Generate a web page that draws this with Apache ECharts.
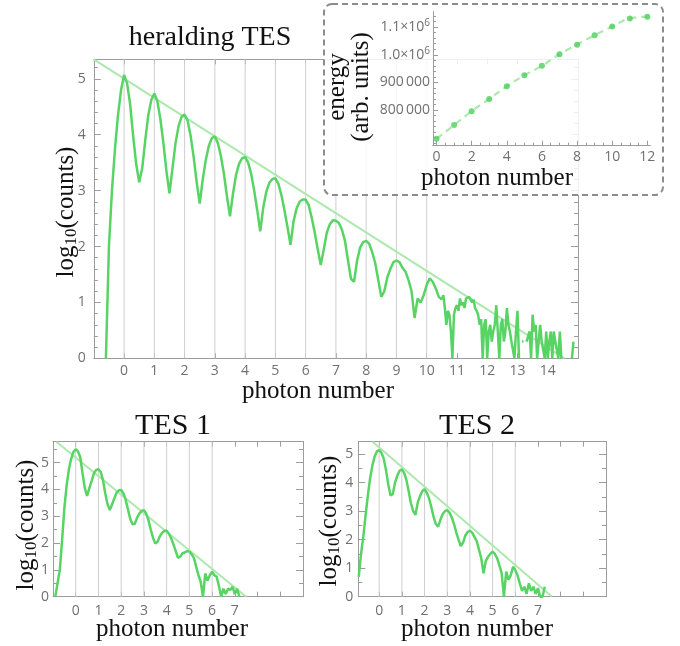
<!DOCTYPE html>
<html><head><meta charset="utf-8">
<script src="https://cdn.jsdelivr.net/npm/echarts@6/dist/echarts.min.js"></script>
<style>html,body{margin:0;padding:0;background:#fff}#c{width:680px;height:646px}</style>
</head><body><div id="c"></div>
<script>
// ---------- data ----------
const binWidth = 0.1;
const tailBinWidth = 0.05;
const heraldStart = -0.6;
const heraldCounts = [0,2.0,3.0,3.75,4.35,4.8,
5.07,4.92,4.55,3.98,3.48,3.15,3.4,3.9,4.35,4.62,
4.74,4.6,4.28,3.85,3.35,2.95,3.4,3.85,4.15,4.32,
4.36,4.25,3.98,3.6,3.15,2.77,3.2,3.55,3.8,3.94,
3.97,3.85,3.62,3.3,2.9,2.54,2.95,3.28,3.48,3.58,
3.6,3.5,3.3,3.0,2.65,2.27,2.7,2.98,3.14,3.21,
3.22,3.12,2.92,2.65,2.35,2.03,2.45,2.68,2.8,2.84,
2.84,2.74,2.52,2.25,1.95,1.67,1.95,2.25,2.4,2.47,
2.46,2.42,2.3,2.1,1.75,1.42,1.37,1.75,1.98,2.08,
2.1,2.05,1.9,1.7,1.4,1.1,1.2,1.45,1.6,1.72,
1.75,1.72,1.62,1.55,1.4,1.2,0.72,1.07,1.0,1.13,
1.31,1.43,1.37,1.25,1.1,1.05];
// noisy tail of the heralding spectrum, finer bins
const heraldTailStart = 10.5;
const heraldTail = [1.05,1.13,0.9,0.6,0.85,0.78,0.48,0,0.78,0.9,
0.95,0.85,1.07,0.95,1.0,0.9,1.07,1.04,1.1,1.13,
1.0,1.05,0.9,0.85,0.78,0.6,0.7,0,0.6,0.7,
0,0.48,0.6,0.3,0.48,0.6,0.95,0.48,0,0.6,
0.7,0.3,0.48,0.9,0.6,0.48,0.3,0.3,0,0.48,
0.85,0,null,0.3,0.3,null,0.3,0.3,0.48,0,
0.78,0.48,0.6,0,0.3,0.6,0.3,0.3,0,0.48,
0,0.3,0.48,0,0.48,0.3,0.3,0,0.48,0,
null,null,null,null,null,null,0,0.3];
const heraldFit = [[-1, 5.35], [14.55, 0]];

const tes1Start = -0.9;
const tes1Counts = [0,0.5,1.0,2.1,3.3,4.15,4.75,5.15,5.4,
5.5,5.42,5.2,4.6,4.05,3.76,4.05,4.32,4.6,4.73,
4.75,4.65,4.35,3.85,3.45,3.23,3.45,3.67,3.88,3.97,
3.98,3.85,3.6,3.25,2.9,2.7,2.72,2.95,3.1,3.2,
3.23,3.1,2.85,2.5,2.2,1.98,2.05,2.25,2.38,2.45,
2.46,2.35,2.18,1.95,1.7,1.45,1.5,1.62,1.65,1.7,
1.68,1.58,1.45,1.12,0.8,0.55,0,0.87,0.6,0.8,
0.93,0.8,0.75,0.4,0,0.3,0.1,0.3,0.25,0.37,
0.1,0.3,0];
const tes1Fit = [[-0.85, 5.78], [7.5, 0]];

const tes2Start = -0.9;
const tes2Counts = [0.7,1.5,2.1,2.85,3.55,4.15,4.6,4.92,5.1,
5.15,5.05,4.85,4.45,3.95,3.55,3.6,4.0,4.25,4.42,
4.47,4.35,4.1,3.7,3.28,3.0,2.87,3.3,3.53,3.7,
3.77,3.65,3.45,3.15,2.8,2.55,2.46,2.7,2.9,3.0,
3.04,2.95,2.78,2.55,2.25,2.0,1.78,1.9,2.15,2.27,
2.32,2.25,2.1,1.95,1.65,1.35,0.82,1.25,1.4,1.5,
1.58,1.5,1.35,1.1,0.82,0,0.88,0.6,0.75,1.05,
0.94,0.75,0.47,0.2,0.35,0.1,0.47,0.2,0.35,0.1,
0.3,0,0,0.35];
const tes2Fit = [[-0.29, 5.44], [7.62, 0]];

const energyN = [0,1,2,3,4,5,6,7,8,9,10,11,12];
const energyVals = [696000,745700,796000,840000,886000,925700,960500,1001800,1036800,1071000,1102000,1131000,1138000];

// ticks / grid lines
const heraldGridX = [0,1,2,3,4,5,6,7,8,9,10];
const heraldXTicks = [-1,0,1,2,3,4,5,6,7,8,9,10,11,12,13,14,15];
const heraldXLabels = [0,1,2,3,4,5,6,7,8,9,10,11,12,13,14];
const heraldYMajor = [0,1,2,3,4,5];
const heraldYMinor = [0.2,0.4,0.6,0.8,1.2,1.4,1.6,1.8,2.2,2.4,2.6,2.8,3.2,3.4,3.6,3.8,4.2,4.4,4.6,4.8,5.2];
const tesGridX = [0,1,2,3,4,5,6];
const tesXTicks = [-1,0,1,2,3,4,5,6,7,8,9,10];
const tesXLabels = [0,1,2,3,4,5,6,7];
const tesYMajor = [0,1,2,3,4,5];
const tesYMinor = [0.5,1.5,2.5,3.5,4.5,5.5];
const energyXLabels = [0,2,4,6,8,10,12];
const energyXMinor = [0,0.5,1,1.5,2,2.5,3,3.5,4,4.5,5,5.5,6,6.5,7,7.5,8,8.5,9,9.5,10,10.5,11,11.5,12];
const energyYLabels = [800000,900000,1000000,1100000];
const energyYMinor = [680000,700000,720000,740000,760000,780000,800000,820000,840000,860000,880000,900000,920000,940000,960000,980000,1000000,1020000,1040000,1060000,1080000,1100000,1120000,1140000];

// ---------- styling ----------
const GREEN = '#58d465';
const FIT = '#ade8ad';
const FRAME = '#9c9c9c';
const GRIDC = '#cfcfcf';
const LBL = '#707070';
const SANS = 'Open Sans';
const SERIF = 'Liberation Serif';

const xAxis = [], yAxis = [], series = [];

function frame(gi, c) {
  const xb = xAxis.length;
  const common = {type:'value', gridIndex:gi, min:c.xMin, max:c.xMax, splitLine:{show:false}, z: c.z||0};
  xAxis.push(Object.assign({}, common, {position:'bottom',
    axisLine:{onZero:false, lineStyle:{color:FRAME, width:1}},
    axisTick:{inside:true, length:5, customValues:c.xTicks, lineStyle:{color:FRAME}},
    axisLabel:{customValues:c.xLabels, margin:c.xMargin, color:LBL, fontFamily:SANS, fontSize:14}}));
  xAxis.push(Object.assign({}, common, {position:'top',
    axisLine:{onZero:false, lineStyle:{color:FRAME, width:1}},
    axisTick:{inside:true, length:5, customValues:c.xTicks, lineStyle:{color:FRAME}},
    axisLabel:{show:false}}));
  const yb = yAxis.length;
  const yc = {type:'value', gridIndex:gi, min:c.yMin, max:c.yMax, splitLine:{show:false}, z:c.z||0};
  ['left','right'].forEach(pos => {
    yAxis.push(Object.assign({}, yc, {position:pos,
      axisLine:{onZero:false, lineStyle:{color:FRAME, width:1}},
      axisTick:{inside:true, length:7, customValues:c.yMajor, lineStyle:{color:FRAME}},
      axisLabel: pos==='left' ? {customValues:c.yMajor, margin:c.yMargin, color:LBL, fontFamily:SANS, fontSize:14} : {show:false}}));
    yAxis.push(Object.assign({}, yc, {position:pos,
      axisLine:{onZero:false, lineStyle:{color:FRAME, width:1}},
      axisTick:{inside:true, length:4, customValues:c.yMinor, lineStyle:{color:FRAME}},
      axisLabel:{show:false}}));
  });
  return {x: xb, y: yb};
}

function bins(start, ys, w) { return ys.map((v, i) => [Math.round((start + i*w)*1000)/1000, v]); }
function gridLines(xs, y0, y1) { const out = []; xs.forEach(v => { out.push([v,y0],[v,y1],[v,null]); }); return out; }

function curve(idx, data) {
  return {type:'line', xAxisIndex:idx.x, yAxisIndex:idx.y, data, showSymbol:false, silent:true,
    lineStyle:{color:GREEN, width:2.5}, z:3, clip:true, connectNulls:false, animation:false};
}
function addPlot(idx, gridX, y0, y1, fit, start, counts) {
  series.push({type:'line', xAxisIndex:idx.x, yAxisIndex:idx.y, data:gridLines(gridX, y0, y1), showSymbol:false, silent:true,
    lineStyle:{color:GRIDC, width:1}, connectNulls:false, z:1, animation:false});
  series.push({type:'line', xAxisIndex:idx.x, yAxisIndex:idx.y, data:fit, showSymbol:false, silent:true,
    lineStyle:{color:FIT, width:2}, z:2, clip:true, animation:false});
  series.push(curve(idx, bins(start, counts, binWidth)));
}

const grid = [
  {left:93.8, top:59.3, width:484.2, height:299},
  {left:53, top:441.7, width:250, height:155},
  {left:358.3, top:441.7, width:247.7, height:155},
  {left:433, top:11.7, width:217, height:134, z:60}
];

const g0 = frame(0, {xMin:-1, xMax:15, xTicks:heraldXTicks, xLabels:heraldXLabels, xMargin:6,
  yMin:0, yMax:5.35, yMajor:heraldYMajor, yMinor:heraldYMinor, yMargin:8});
addPlot(g0, heraldGridX, 0, 5.35, heraldFit, heraldStart, heraldCounts);
series.push(curve(g0, bins(heraldTailStart, heraldTail, tailBinWidth)));
const g1 = frame(1, {xMin:-1, xMax:10, xTicks:tesXTicks, xLabels:tesXLabels, xMargin:7,
  yMin:0, yMax:5.78, yMajor:tesYMajor, yMinor:tesYMinor, yMargin:4});
addPlot(g1, tesGridX, 0, 5.78, tes1Fit, tes1Start, tes1Counts);
const g2 = frame(2, {xMin:-0.92, xMax:10, xTicks:tesXTicks, xLabels:tesXLabels, xMargin:7,
  yMin:0, yMax:5.44, yMajor:tesYMajor, yMinor:tesYMinor, yMargin:5});
addPlot(g2, tesGridX, 0, 5.44, tes2Fit, tes2Start, tes2Counts);

// inset axes
const ix = xAxis.length, iy = yAxis.length;
const ixc = {type:'value', gridIndex:3, min:-0.2, max:12.15, splitLine:{show:false}, z:60, position:'bottom'};
xAxis.push(Object.assign({}, ixc, {axisLine:{onZero:false, lineStyle:{color:FRAME}},
  axisTick:{inside:true, length:5, customValues:energyXLabels, lineStyle:{color:FRAME}},
  axisLabel:{customValues:energyXLabels, margin:4, color:LBL, fontFamily:SANS, fontSize:14}}));
xAxis.push(Object.assign({}, ixc, {axisLine:{onZero:false, lineStyle:{color:FRAME}},
  axisTick:{inside:true, length:3, customValues:energyXMinor, lineStyle:{color:FRAME}},
  axisLabel:{show:false}}));
const iyc = {type:'value', gridIndex:3, min:671000, max:1156000, splitLine:{show:false}, z:60, position:'left'};
yAxis.push(Object.assign({}, iyc, {axisLine:{onZero:false, lineStyle:{color:FRAME}},
  axisTick:{inside:true, length:5, customValues:energyYLabels, lineStyle:{color:FRAME}},
  axisLabel:{customValues:energyYLabels, margin:3, color:LBL, fontFamily:SANS, fontSize:14,
    formatter: v => v >= 1000000 ? '{a|' + (v/1000000).toFixed(1) + '×10}{s|6}' : '{a|' + String(v/1000) + '\u2009000}',
    rich:{a:{fontFamily:SANS, fontSize:14, color:LBL, lineHeight:18, verticalAlign:'middle'},
          s:{fontFamily:SANS, fontSize:10, color:LBL, lineHeight:10, verticalAlign:'top'}}}}));
yAxis.push(Object.assign({}, iyc, {axisLine:{onZero:false, lineStyle:{color:FRAME}},
  axisTick:{inside:true, length:3, customValues:energyYMinor, lineStyle:{color:FRAME}},
  axisLabel:{show:false}}));
series.push({type:'line', xAxisIndex:ix, yAxisIndex:iy, data:energyN.map((n,i)=>[n, energyVals[i]]), smooth:true,
  showSymbol:false, silent:true, lineStyle:{color:FIT, width:2.2, type:[7,5]}, z:70, animation:false});
series.push({type:'scatter', xAxisIndex:ix, yAxisIndex:iy, data:energyN.map((n,i)=>[n, energyVals[i]]),
  symbolSize:6, itemStyle:{color:'#4ccf5a'}, silent:true, z:71, animation:false});

// ---------- texts ----------
function txt(x, y, text, size, rot, z, rich) {
  const st = {text, fontFamily:SERIF, fontSize:size, fill:'#111', align:'center', verticalAlign:'middle'};
  if (rich) st.rich = rich;
  return {type:'text', x, y, rotation:rot||0, z:z||100, silent:true, style:st};
}
const logRich = {a:{fontFamily:SERIF, fontSize:25, fill:'#111', lineHeight:28, verticalAlign:'middle'},
                 s:{fontFamily:SERIF, fontSize:17, fill:'#111', lineHeight:14, verticalAlign:'bottom'}};
const logText = '{a|log}{s|10}{a|(counts)}';
const graphic = [
  {type:'rect', z:50, silent:true, shape:{x:324, y:4, width:339, height:191, r:8},
   style:{fill:'rgba(255,255,255,0.84)', stroke:'#8c8c8c', lineWidth:2, lineDash:[6,4]}},
  txt(210, 38, 'heralding TES', 28),
  txt(66, 212, logText, 25, Math.PI/2, 100, logRich),
  txt(318, 391, 'photon number', 25),
  txt(173, 426, 'TES 1', 30),
  txt(477, 426, 'TES 2', 30),
  txt(26, 525, logText, 25, Math.PI/2, 100, logRich),
  txt(329, 521, logText, 25, Math.PI/2, 100, logRich),
  txt(172, 629, 'photon number', 25),
  txt(477, 629, 'photon number', 25),
  txt(337, 87, 'energy', 25, Math.PI/2, 100),
  txt(361, 87, '(arb. units)', 25, Math.PI/2, 100),
  txt(497, 178, 'photon number', 25, 0, 100)
];

const chart = echarts.init(document.getElementById('c'), null, {renderer:'canvas'});
chart.setOption({animation:false, backgroundColor:'#fff', grid, xAxis, yAxis, series, graphic});
</script></body></html>
